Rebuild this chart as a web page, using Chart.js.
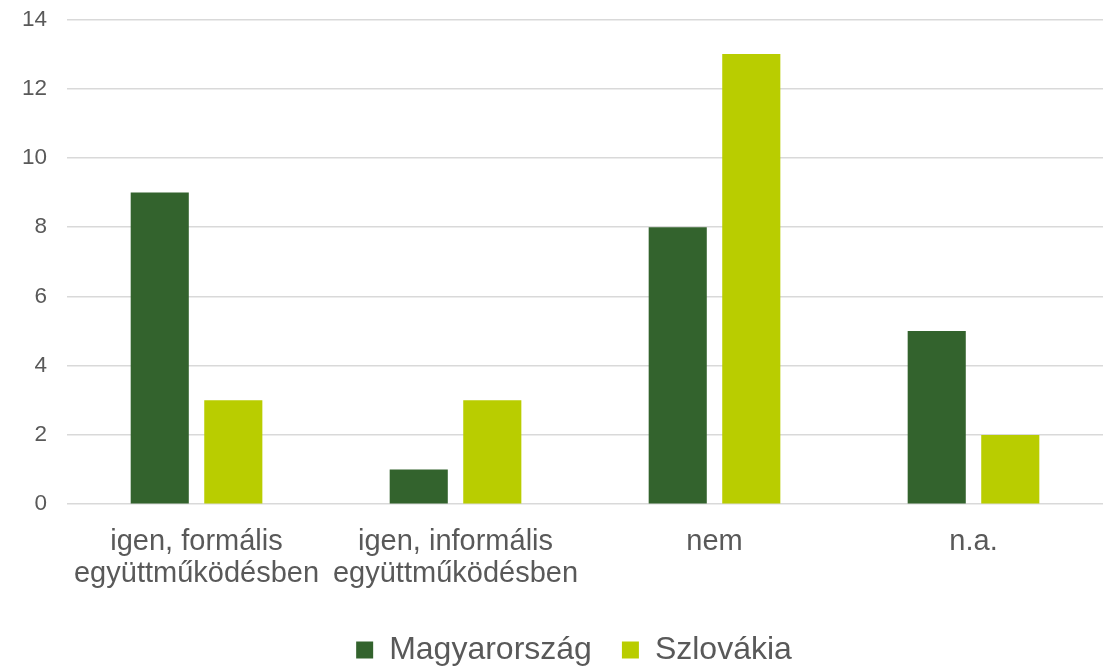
<!DOCTYPE html>
<html>
<head>
<meta charset="utf-8">
<script src="https://cdn.jsdelivr.net/npm/chart.js@4"></script>
<style>
  html, body { margin: 0; padding: 0; background: #fff; overflow: hidden; height: 669px; }
  #wrap { position: relative; top: -14px; width: 1107px; height: 690px; }
</style>
</head>
<body>
<div id="wrap"><canvas id="myChart"></canvas></div>
<script>
var categories = [
  ["igen, formális", "együttműködésben"],
  ["igen, informális", "együttműködésben"],
  "nem",
  "n.a."
];
var hungary = [9, 1, 8, 5];
var slovakia = [3, 3, 13, 2];
var seriesNames = ["Magyarország", "Szlovákia"];

var textColor = '#595959';
Chart.defaults.font.family = '"Liberation Sans", Arial, sans-serif';
Chart.defaults.color = textColor;

// nudge the legend a bit left, like the original
var legendShift = {
  id: 'legendShift',
  afterLayout: function(chart) {
    chart.legend.left -= 11;
    chart.legend.right -= 11;
  }
};

var ctx = document.getElementById("myChart");
var myChart = new Chart(ctx, {
  type: 'bar',
  data: {
    labels: categories,
    datasets: [
      {
        label: seriesNames[0],
        data: hungary,
        backgroundColor: '#33632D',
        categoryPercentage: 0.568,
        barPercentage: 0.79
      },
      {
        label: seriesNames[1],
        data: slovakia,
        backgroundColor: '#B9CD00',
        categoryPercentage: 0.568,
        barPercentage: 0.79
      }
    ]
  },
  plugins: [legendShift],
  options: {
    responsive: true,
    maintainAspectRatio: false,
    animation: false,
    layout: { padding: { left: 2, right: 4, top: 0, bottom: 0 } },
    plugins: {
      tooltip: { enabled: false },
      legend: {
        position: 'bottom',
        fullSize: false,
        labels: {
          boxWidth: 17,
          boxHeight: 17,
          padding: 30,
          color: textColor,
          font: { size: 32 }
        }
      }
    },
    scales: {
      x: {
        grid: { display: false },
        border: { display: false },
        ticks: {
          color: textColor,
          font: { size: 29, lineHeight: 1.1 },
          padding: 14,
          maxRotation: 0,
          autoSkip: false
        }
      },
      y: {
        min: 0,
        max: 14,
        border: { display: false },
        grid: { color: '#D9D9D9', lineWidth: 1.5, drawTicks: false },
        ticks: {
          stepSize: 2,
          color: textColor,
          font: { size: 22.5 },
          padding: 20
        }
      }
    }
  }
});
</script>
</body>
</html>
